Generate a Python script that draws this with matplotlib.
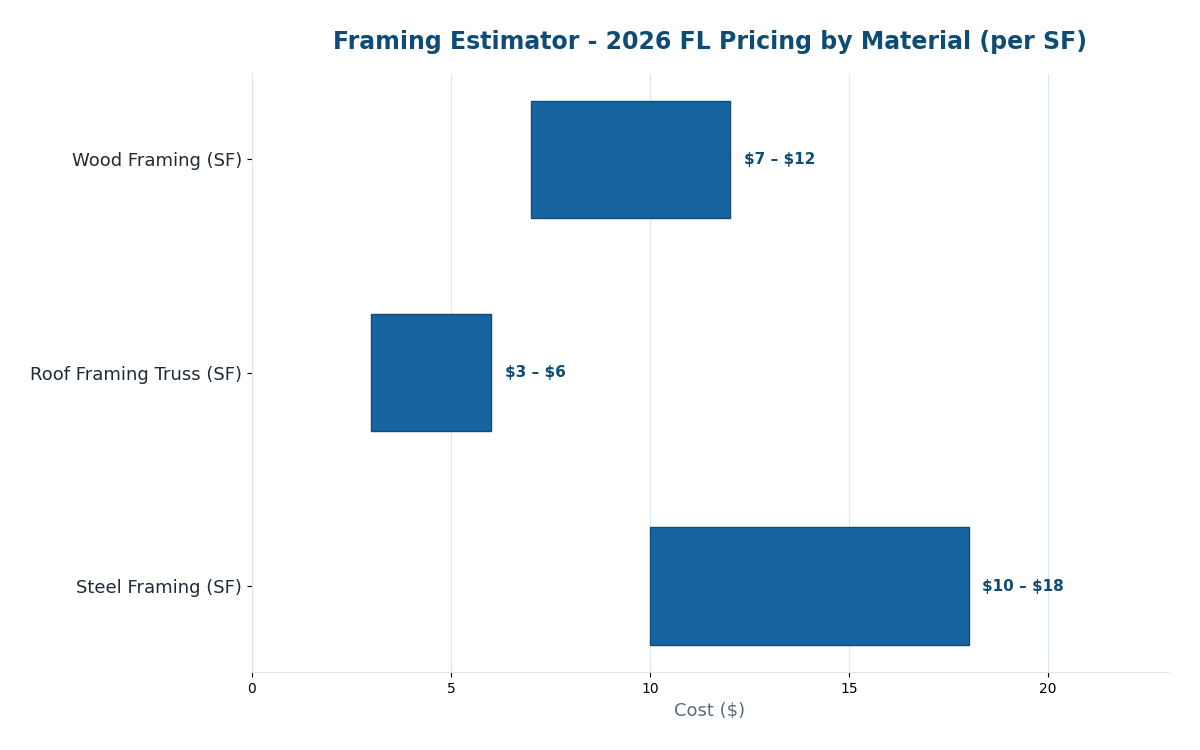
import matplotlib
matplotlib.use("Agg")
import matplotlib.pyplot as plt

materials = ["Wood Framing (SF)", "Roof Framing Truss (SF)", "Steel Framing (SF)"]
low = [7, 3, 10]
high = [12, 6, 18]

BAR = "#1864a0"
EDGE = "#0f4c75"
TITLE = "#0f4c75"
SPINE = "#dbe6ef"

fig, ax = plt.subplots(figsize=(12, 7.5), dpi=100)
fig.subplots_adjust(left=0.21, right=0.973, top=0.902, bottom=0.104)

ypos = list(range(len(materials)))
widths = [h - l for l, h in zip(low, high)]
ax.barh(ypos, widths, left=low, height=0.55, color=BAR, edgecolor=EDGE, linewidth=1.0, zorder=3)
for y, l, h in zip(ypos, low, high):
    ax.annotate(f"\\${l} – \\${h}", xy=(h, y), xytext=(10, 0), textcoords="offset points",
                va="center", ha="left", fontsize=11, fontweight="bold", color=TITLE)

ax.set_yticks(ypos)
ax.set_yticklabels(materials, fontsize=13, color="#1f2a37")
ax.invert_yaxis()
ax.set_xlim(0, 23)
ax.set_xticks([0, 5, 10, 15, 20])
ax.tick_params(axis="x", labelsize=10)
ax.set_xlabel("Cost (\\$)", fontsize=13, color="#5a6b7d")
ax.set_title("Framing Estimator - 2026 FL Pricing by Material (per SF)",
             fontsize=17, fontweight="bold", color=TITLE, pad=18)

ax.grid(axis="x", color=SPINE, linewidth=0.8, zorder=0)
ax.set_axisbelow(True)
for s in ("top", "right"):
    ax.spines[s].set_visible(False)
for s in ("left", "bottom"):
    ax.spines[s].set_color(SPINE)

fig.savefig("out.png", dpi=100)
